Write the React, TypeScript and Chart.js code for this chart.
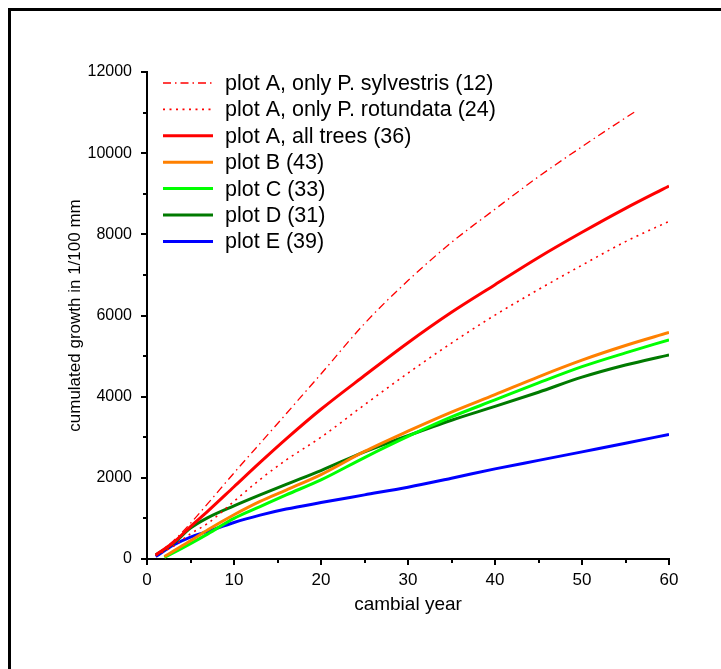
import React, { useEffect, useRef } from "react";
import { Chart, registerables } from "chart.js";

Chart.register(...registerables);

const FONT = "'Liberation Sans', Arial, Helvetica, sans-serif";

// cambial years at which values were read
const YEARS = [1, 3, 5, 7, 10, 13, 16, 20, 25, 30, 35, 40, 45, 50, 55, 60];
const YEARS_SYL = [1, 3, 5, 7, 10, 13, 16, 20, 25, 30, 35, 40, 45, 50, 53, 56];
const YEARS_BC = [2, 3, 5, 7, 10, 13, 16, 20, 25, 30, 35, 40, 45, 50, 55, 60];

// cumulated growth in 1/100 mm
const A_SYLVESTRIS = [100, 440, 880, 1370, 2120, 2850, 3580, 4560, 5800, 6860, 7800, 8620, 9420, 10160, 10590, 11010];
const A_ROTUNDATA = [80, 310, 620, 880, 1420, 1960, 2440, 3000, 3800, 4580, 5320, 6010, 6640, 7240, 7820, 8320];
const A_ALL = [100, 400, 800, 1180, 1780, 2380, 2960, 3690, 4520, 5330, 6080, 6760, 7430, 8050, 8640, 9190];
const PLOT_B = [60, 190, 450, 720, 1090, 1420, 1700, 2080, 2650, 3150, 3620, 4050, 4490, 4900, 5260, 5580];
const PLOT_C = [40, 150, 380, 620, 1000, 1290, 1580, 1950, 2500, 3020, 3500, 3920, 4340, 4740, 5080, 5400];
const PLOT_D = [100, 380, 760, 1020, 1310, 1580, 1840, 2180, 2640, 3040, 3420, 3760, 4110, 4480, 4780, 5030];
const PLOT_E = [60, 340, 540, 680, 900, 1080, 1230, 1390, 1580, 1770, 1990, 2220, 2430, 2640, 2850, 3070];

const LABELS = [
  "plot A, only P. sylvestris (12)",
  "plot A, only P. rotundata (24)",
  "plot A, all trees (36)",
  "plot B (43)",
  "plot C (33)",
  "plot D (31)",
  "plot E (39)",
];

const X_MINOR = [5, 15, 25, 35, 45, 55];
const Y_MINOR = [1000, 3000, 5000, 7000, 9000, 11000];

const pts = (xs: number[], ys: number[]) => xs.map((x, i) => ({ x, y: ys[i] }));

const framePlugin = {
  id: "frame",
  beforeDraw(chart: any) {
    const ctx = chart.ctx;
    ctx.save();
    ctx.fillStyle = "#fff";
    ctx.fillRect(0, 0, chart.width, chart.height);
    ctx.fillStyle = "#000";
    ctx.fillRect(8, 8, 3, chart.height - 8);
    ctx.fillRect(8, 8, chart.width - 8, 3);
    ctx.restore();
  },
};

const minorTicksPlugin = {
  id: "minorTicks",
  afterDraw(chart: any) {
    const ctx = chart.ctx;
    const xs = chart.scales.x;
    const ys = chart.scales.y;
    ctx.save();
    ctx.strokeStyle = "#000";
    ctx.lineWidth = 2;
    ctx.beginPath();
    X_MINOR.forEach((v) => {
      const px = Math.round(xs.getPixelForValue(v));
      ctx.moveTo(px, xs.top);
      ctx.lineTo(px, xs.top + 4);
    });
    Y_MINOR.forEach((v) => {
      const py = Math.round(ys.getPixelForValue(v));
      ctx.moveTo(ys.right, py);
      ctx.lineTo(ys.right - 4, py);
    });
    ctx.stroke();
    ctx.restore();
  },
};

const legendPlugin = {
  id: "customLegend",
  afterDraw(chart: any) {
    const ctx = chart.ctx;
    ctx.save();
    chart.data.datasets.forEach((ds: any, i: number) => {
      const y = 83 + i * 26.4;
      ctx.beginPath();
      ctx.strokeStyle = ds.borderColor;
      ctx.lineWidth = ds.borderWidth;
      ctx.setLineDash(ds.borderDash || []);
      ctx.moveTo(163, y);
      ctx.lineTo(213, y);
      ctx.stroke();
      ctx.setLineDash([]);
      ctx.fillStyle = "#000";
      ctx.font = `21.5px ${FONT}`;
      ctx.textBaseline = "middle";
      ctx.textAlign = "left";
      ctx.fillText(ds.label, 225, y + 1);
    });
    ctx.restore();
  },
};

export default function App() {
  const ref = useRef<HTMLCanvasElement>(null);

  useEffect(() => {
    const canvas = ref.current!;
    const chart = new Chart(canvas, {
      type: "line",
      data: {
        datasets: [
          { label: LABELS[0], data: pts(YEARS_SYL, A_SYLVESTRIS), borderColor: "#ff0000", borderWidth: 1.3, borderDash: [8, 4, 1.5, 4] },
          { label: LABELS[1], data: pts(YEARS, A_ROTUNDATA), borderColor: "#ff0000", borderWidth: 1.6, borderDash: [2, 4.5] },
          { label: LABELS[2], data: pts(YEARS, A_ALL), borderColor: "#ff0000", borderWidth: 3 },
          { label: LABELS[3], data: pts(YEARS_BC, PLOT_B), borderColor: "#ff8000", borderWidth: 3 },
          { label: LABELS[4], data: pts(YEARS_BC, PLOT_C), borderColor: "#00ff00", borderWidth: 3 },
          { label: LABELS[5], data: pts(YEARS, PLOT_D), borderColor: "#007a00", borderWidth: 3 },
          { label: LABELS[6], data: pts(YEARS, PLOT_E), borderColor: "#0000ff", borderWidth: 3 },
        ],
      },
      options: {
        responsive: false,
        animation: false,
        devicePixelRatio: 1,
        layout: { padding: { left: 0, right: 52, top: 72, bottom: 0 } },
        plugins: { legend: { display: false }, tooltip: { enabled: false } },
        elements: {
          point: { radius: 0 },
          line: { cubicInterpolationMode: "monotone", fill: false },
        },
        scales: {
          x: {
            type: "linear",
            min: 0,
            max: 60,
            ticks: {
              stepSize: 10,
              color: "#000",
              font: { family: FONT, size: 17 },
              padding: 5,
              maxRotation: 0,
              callback: (v: any) => String(v),
            },
            grid: { drawOnChartArea: false, tickLength: 6, color: "#000", lineWidth: 2 },
            border: { display: true, color: "#000", width: 2 },
            title: {
              display: true,
              text: "cambial year",
              color: "#000",
              font: { family: FONT, size: 19 },
              padding: { top: 0, bottom: 53 },
            },
            afterFit: (s: any) => {
              s.height = 110;
            },
          },
          y: {
            type: "linear",
            min: 0,
            max: 12000,
            ticks: {
              stepSize: 2000,
              color: "#000",
              font: { family: FONT, size: 16 },
              padding: 9,
              callback: (v: any) => String(v),
            },
            grid: { drawOnChartArea: false, tickLength: 6, color: "#000", lineWidth: 2 },
            border: { display: true, color: "#000", width: 2 },
            title: {
              display: true,
              text: "cumulated growth in 1/100 mm",
              color: "#000",
              font: { family: FONT, size: 17 },
              padding: { top: 65, bottom: 0 },
            },
            afterFit: (s: any) => {
              s.width = 147;
            },
          },
        },
      } as any,
      plugins: [framePlugin, minorTicksPlugin, legendPlugin],
    });
    return () => chart.destroy();
  }, []);

  return (
    <canvas
      ref={ref}
      width={721}
      height={669}
      style={{ position: "absolute", left: 0, top: 0, width: 721, height: 669 }}
    />
  );
}
